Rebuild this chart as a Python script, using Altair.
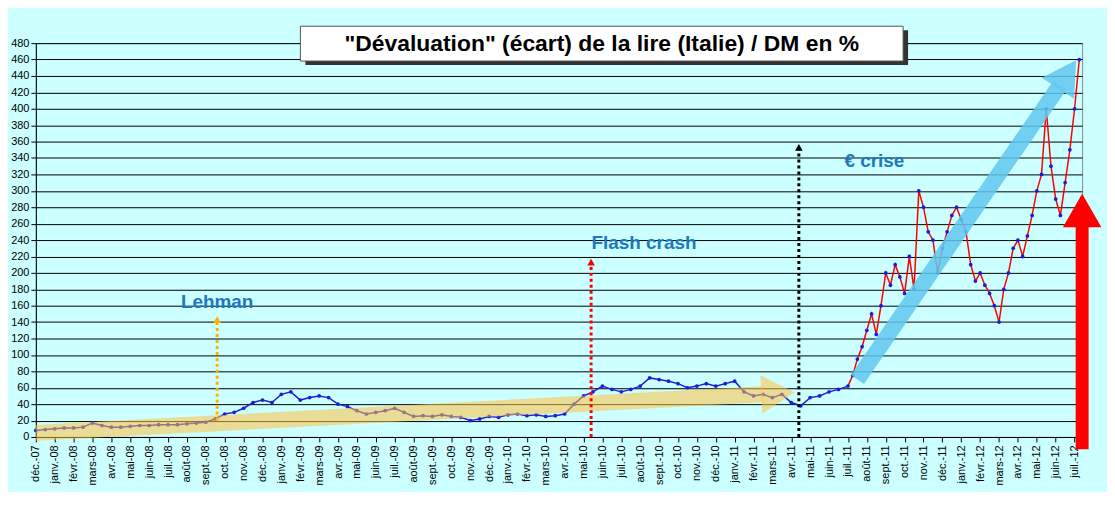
import altair as alt
import pandas as pd
import numpy as np

mois = ["janv.", "févr.", "mars", "avr.", "mai", "juin", "juil.", "août", "sept.", "oct.", "nov.", "déc."]
labels = ["déc.-07"]
for yy in ["08", "09", "10", "11"]:
    labels += [m + "-" + yy for m in mois]
labels += [m + "-12" for m in mois[:7]]

# half-month values, déc-07 .. mi-juil-11
early = [8, 9, 10, 11, 11, 12, 17, 14, 12, 12, 13, 14, 14, 15, 15, 15, 16, 17, 18, 22,
         28, 30, 35, 42, 45, 42, 52, 55, 45, 48, 50, 48, 40, 37, 32, 28, 30, 32, 35, 30,
         25, 26, 25, 27, 25, 24, 20, 22, 25, 24, 27, 28, 26, 27, 25, 26, 28, 40, 50, 55,
         62, 58, 55, 58, 62, 72, 70, 68, 65, 60, 62, 65, 62, 65, 68, 55, 50, 52, 48, 52,
         42, 38, 48, 50, 55, 58, 62]
# quarter-month values, mi-juil-11 .. juil-12
late = [75, 95, 110, 130, 150, 125, 160, 200, 185, 210, 195, 175, 220, 180, 300, 280, 250, 240,
        200, 230, 250, 270, 280, 265, 250, 210, 190, 200, 185, 175, 160, 140, 180, 200,
        230, 240, 220, 245, 270, 300, 320, 400, 330, 290, 270, 310, 350, 400, 460]

xe = [i * 0.5 for i in range(len(early))]
xl = [xe[-1] + 0.25 * (i + 1) for i in range(len(late))]
df = pd.DataFrame({"x": xe + xl, "v": early + late})
df_red = df[df.x >= xe[-1]]
df_blue = df[df.x <= xe[-1]]

xs = alt.Scale(domain=[0, 55.4], nice=False, zero=False)
ys = alt.Scale(domain=[0, 480], nice=False)
lab_expr = "[" + ",".join("'" + l + "'" for l in labels) + "][datum.value]"
X = alt.X("x:Q", scale=xs, axis=alt.Axis(values=list(range(56)), labelExpr=lab_expr, labelAngle=270,
                                         grid=False, title=None, labelFontSize=11, labelColor="black",
                                         tickColor="black", domainColor="black", labelPadding=3))
Y = alt.Y("v:Q", scale=ys, axis=alt.Axis(values=list(range(0, 481, 20)), title=None, gridColor="black",
                                         gridWidth=1, labelFontSize=11, labelColor="black",
                                         tickColor="black", domainColor="black"))

base = alt.Chart(df)
blue_line = alt.Chart(df_blue).mark_line(color="#2020d0", strokeWidth=1.5).encode(x=X, y=Y)
red_line = alt.Chart(df_red).mark_line(color="#ff0000", strokeWidth=1.5).encode(x=X, y=Y)
pts = base.mark_circle(color="#1a1ae0", size=14, opacity=1).encode(x=X, y=Y)

def seg(x1, y1, x2, y2):
    return pd.DataFrame({"x": [x1], "v": [y1], "x2": [x2], "v2": [y2]})

def arrow(d, color, width, opacity, dash=None, head=None, angle=0, hsize=400):
    kw = dict(color=color, strokeWidth=width, opacity=opacity)
    if dash:
        kw["strokeDash"] = dash
    r = alt.Chart(d).mark_rule(**kw).encode(x=X, y=Y, x2="x2:Q", y2="v2:Q")
    h = alt.Chart(pd.DataFrame({"x": [head[0]], "v": [head[1]]})).mark_point(
        shape="triangle-up", filled=True, color=color, opacity=opacity, size=hsize, angle=angle
    ).encode(x=X, y=Y)
    return r + h

yellow = arrow(seg(0, 5, 38.5, 52), "#ffc040", 16, 0.55, head=(39.3, 53), angle=87, hsize=1500)
lblue = arrow(seg(43.5, 70, 54.2, 428), "#60c8f0", 16, 0.85, head=(54.6, 442), angle=33, hsize=1500)
red = arrow(seg(55.4, -15, 55.4, 268), "#ff0000", 13, 1, head=(55.4, 276), angle=0, hsize=1500)
leh = arrow(seg(9.6, 20, 9.6, 140), "#ffb000", 3, 1, dash=[3, 3], head=(9.6, 143), hsize=60)
fla = arrow(seg(29.4, 0, 29.4, 210), "#ff0000", 3, 1, dash=[3, 3], head=(29.4, 213), hsize=60)
eur = arrow(seg(40.4, 0, 40.4, 350), "#000000", 3, 1, dash=[3, 3], head=(40.4, 353), hsize=60)

txt = pd.DataFrame({"x": [9.6, 32.2, 44.4], "v": [164, 236, 336], "t": ["Lehman", "Flash crash", "€ crise"]})
texts = alt.Chart(txt).mark_text(font="Liberation Sans", fontSize=19, fontWeight="bold",
                                 color="#1e78c0").encode(x=X, y=Y, text="t:N")

title_shadow = alt.Chart(pd.DataFrame({"a": [0]})).mark_rect(color="#333333").encode(
    x=alt.value(271), x2=alt.value(877), y=alt.value(-13), y2=alt.value(22))
title_box = alt.Chart(pd.DataFrame({"a": [0]})).mark_rect(color="white", stroke="#555555").encode(
    x=alt.value(266), x2=alt.value(872), y=alt.value(-17), y2=alt.value(18))
title_txt = alt.Chart(pd.DataFrame({"t": ["\"Dévaluation\" (écart) de la lire (Italie) / DM en %"]})).mark_text(
    font="Liberation Sans", fontSize=23, fontWeight="bold", color="black").encode(
    x=alt.value(569), y=alt.value(1), text="t:N")

chart = alt.layer(blue_line, red_line, pts, yellow, lblue, red, leh, fla, eur, texts,
                  title_shadow, title_box, title_txt).properties(
    width=1052, height=396, background="#ccffff", padding={"top": 16, "left": 2, "right": 5, "bottom": 5}
).configure_view(stroke="#888888", fill="#ccffff").configure_axis(labelFont="Liberation Sans")

chart.save("out.html", embed_options={"renderer": "svg", "actions": False})
